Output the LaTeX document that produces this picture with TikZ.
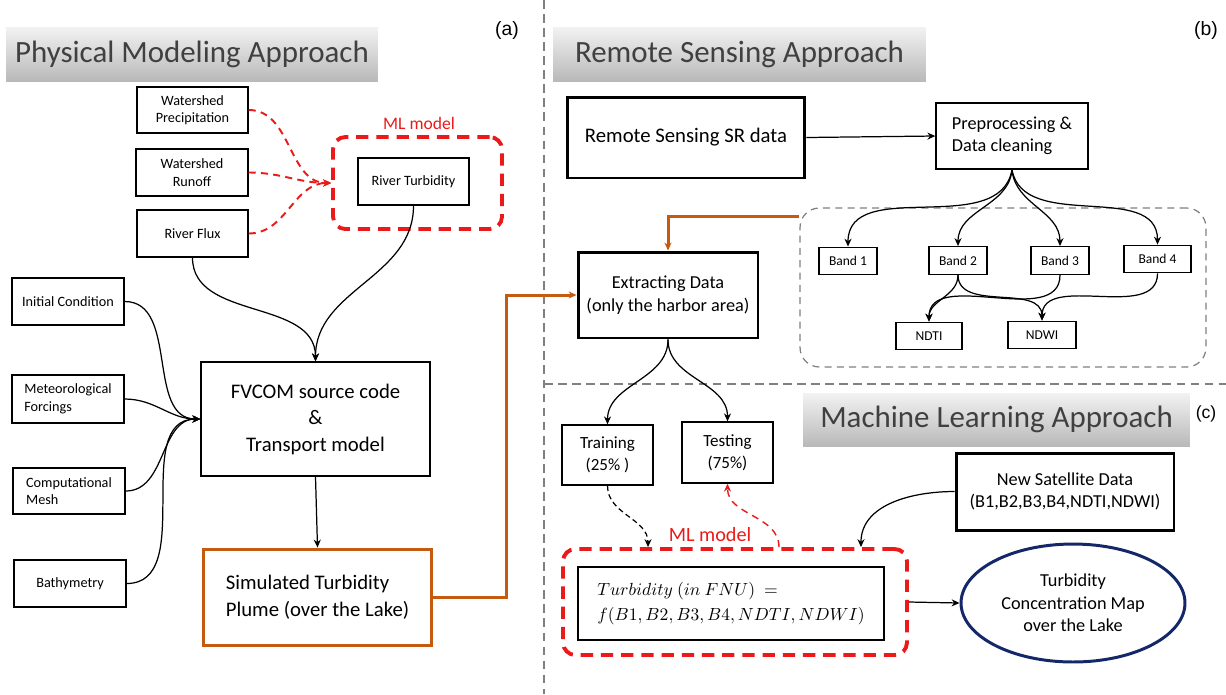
\documentclass[tikz,border=0pt]{standalone}
\usepackage{fontspec}
\setmainfont{Carlito}
\newfontfamily\tagfont{Liberation Sans}
\usetikzlibrary{arrows.meta,shapes.geometric}
\definecolor{plumeorange}{RGB}{197,90,17}
\definecolor{mlred}{RGB}{235,25,25}
\definecolor{mapnavy}{RGB}{20,40,105}
\definecolor{headgray}{RGB}{64,64,64}
\newcommand{\fs}[2]{\fontsize{#1}{#2}\selectfont}

\begin{document}
\begin{tikzpicture}[x=0.02cm,y=0.02cm,>={Stealth[length=4.5pt,width=4pt]},
  box/.style={draw,line width=0.8pt,align=center,text=black,font=\fs{8.1}{10}},
  bigbox/.style={box,font=\fs{11.8}{15.1}},
  midbox/.style={box,font=\fs{10.4}{12.8}},
  bandbox/.style={box,font=\fs{7.7}{9},minimum height=0.55cm},
  head/.style={top color=gray!10,bottom color=gray!55,text=headgray,font=\fs{17.6}{20},minimum height=1.08cm},
  tag/.style={font=\tagfont\fs{11}{13}},
  mlbox/.style={draw=mlred,line width=2.2pt,dash pattern=on 7pt off 4.5pt,rounded corners=7pt},
  mltag/.style={text=mlred},
  link/.style={->,line width=0.7pt},
  redlink/.style={->,draw=mlred,line width=1.1pt,dash pattern=on 4pt off 3pt},
  plumelink/.style={->,draw=plumeorange,line width=1.7pt},
  sep/.style={draw=gray,line width=1.4pt,dash pattern=on 5pt off 3pt}]
\useasboundingbox (0,0) rectangle (1226,-694);
\draw[sep] (544,0) -- (544,-694);
\draw[sep] (544,-384) -- (1226,-384);

\node[head,minimum width=7.44cm] (headA) at (192,-54) {Physical Modeling Approach};
\node[head,minimum width=7.46cm] (headB) at (739.5,-54) {Remote Sensing Approach};
\node[head,minimum width=7.74cm,minimum height=1.06cm] (headC) at (996.5,-419.5) {Machine Learning Approach};
\node[tag] (tagA) at (507,-30) {(a)};
\node[tag] (tagB) at (1206,-30) {(b)};
\node[tag,font=\tagfont\fs{10}{12}] (tagC) at (1206,-414) {(c)};

\node[box,minimum width=2.22cm,minimum height=0.92cm] (prec) at (192.5,-110) {Watershed\\Precipitation};
\node[box,minimum width=2.24cm,minimum height=0.94cm] (runoff) at (192,-172.5) {Watershed\\Runoff};
\node[box,minimum width=2.22cm,minimum height=0.94cm] (flux) at (192.5,-233.5) {River Flux};
\node[mlbox,minimum width=3.38cm,minimum height=1.84cm] (mlA) at (417.5,-183) {};
\node[mltag,font=\fs{10}{12}] (mlAtag) at (419,-123) {ML model};
\node[box,minimum width=2.22cm,minimum height=0.94cm] (turb) at (413.5,-181.5) {River Turbidity};
\node[box,minimum width=2.24cm,minimum height=0.94cm] (init) at (68,-301.5) {Initial Condition};
\node[box,align=left,minimum width=2.24cm,minimum height=0.96cm] (meteo) at (68,-399) {Meteorological\\Forcings};
\node[box,align=left,minimum width=2.24cm,minimum height=0.92cm] (mesh) at (69,-491) {Computational\\Mesh};
\node[box,minimum width=2.24cm,minimum height=0.94cm] (bathy) at (70,-583.5) {Bathymetry};
\node[bigbox,minimum width=4.58cm,minimum height=2.28cm] (fvcom) at (315.5,-419) {FVCOM source code\\\&\\Transport model};
\node[bigbox,draw=plumeorange,line width=1.7pt,align=left,minimum width=4.58cm,minimum height=1.92cm] (sim) at (317.5,-597) {Simulated Turbidity\\Plume (over the Lake)};

\draw[redlink] (prec.east) to[out=0,in=180] (mlA.west);
\draw[redlink] (runoff.east) to[out=0,in=180] (mlA.west);
\draw[redlink] (flux.east) to[out=0,in=180] (mlA.west);
\draw[link] (flux.south) to[out=-90,in=90] (fvcom.north);
\draw[link] (turb.south) to[out=-90,in=90] (fvcom.north);
\foreach \src in {init,meteo,mesh,bathy}
  \draw[link] (\src.east) to[out=0,in=180] (fvcom.west);
\draw[link] (fvcom.south) -- (sim.north);

\node[bigbox,line width=1.7pt,minimum width=4.76cm,minimum height=1.62cm] (rs) at (686,-137.5) {Remote Sensing SR data};
\node[midbox,align=left,minimum width=3.04cm,minimum height=1.32cm] (prep) at (1012,-136) {Preprocessing \&\\Data cleaning};
\node[draw=gray,line width=0.7pt,dash pattern=on 4pt off 3pt,rounded corners=11pt,minimum width=8.12cm,minimum height=3.18cm] (grp) at (1003,-287.5) {};
\node[midbox,line width=1.7pt,minimum width=3.6cm,minimum height=1.72cm] (ext) at (668,-295) {Extracting Data\\(only the harbor area)};
\node[bandbox,minimum width=1.16cm] (b1) at (848,-261) {Band 1};
\node[bandbox,minimum width=1.16cm] (b2) at (958,-260.5) {Band 2};
\node[bandbox,minimum width=1.16cm] (b3) at (1060,-260.5) {Band 3};
\node[bandbox,minimum width=1.34cm] (b4) at (1157.5,-259) {Band 4};
\node[bandbox,minimum width=1.32cm] (ndti) at (929,-336) {NDTI};
\node[bandbox,minimum width=1.36cm] (ndwi) at (1042,-335) {NDWI};

\draw[plumelink] (sim.east) -- ++(73,0) |- (ext.west);
\draw[link] (rs.east) -- (prep.west);
\foreach \b/\o in {b1/-100,b2/-95,b3/-85,b4/-80}
  \draw[link] (prep.south) to[out=\o,in=90] (\b.north);
\draw[link] (b2.south) to[out=-90,in=90] (ndti.north);
\draw[link] (b3.south) to[out=-90,in=90] (ndti.north);
\draw[link] (b2.south) to[out=-90,in=90] (ndwi.north);
\draw[link] (b4.south) to[out=-90,in=90] (ndwi.north);
\draw[plumelink] ([yshift=-0.18cm]grp.north west) -| (ext.north);

\node[box,font=\fs{9.7}{12.3},minimum width=1.82cm,minimum height=1.2cm] (train) at (607.5,-455) {Training\\(25\% )};
\node[box,font=\fs{9.7}{12.3},minimum width=1.82cm,minimum height=1.22cm] (test) at (727.5,-452.5) {Testing\\(75\%)};
\node[midbox,line width=1.7pt,minimum width=4.36cm,minimum height=1.54cm] (sat) at (1065,-491.5) {New Satellite Data\\(B1,B2,B3,B4,NDTI,NDWI)};
\node[mlbox,minimum width=6.88cm,minimum height=2.12cm] (mlC) at (735,-602) {};
\node[mltag,font=\fs{11.5}{13}] (mlCtag) at (710,-535) {ML model};
\node[box,align=left,font=\fs{10.4}{14.2},minimum width=6.12cm,minimum height=1.46cm] (form) at (731,-603.5) {$Turbidity\ (in\ FNU)\ =$\\$f(B1,B2,B3,B4,NDTI,NDWI)$};
\node[ellipse,draw=mapnavy,line width=1.7pt,align=center,text=black,font=\fs{10.4}{12.9},minimum width=4.48cm,minimum height=2.36cm] (map) at (1073,-603) {Turbidity\\Concentration Map\\over the Lake};

\draw[link] (ext.south) to[out=-90,in=90] (train.north);
\draw[link] (ext.south) to[out=-90,in=90] (test.north);
\draw[link,dash pattern=on 3pt off 2pt] (train.south) to[out=-90,in=90] ([xshift=-1.74cm]mlC.north);
\draw[redlink,line width=0.8pt] ([xshift=0.88cm]mlC.north) to[out=90,in=-90] (test.south);
\draw[link] (sat.west) to[out=180,in=90] ([xshift=2.52cm]mlC.north);
\draw[link] (mlC.east) -- (map.west);
\end{tikzpicture}
\end{document}
